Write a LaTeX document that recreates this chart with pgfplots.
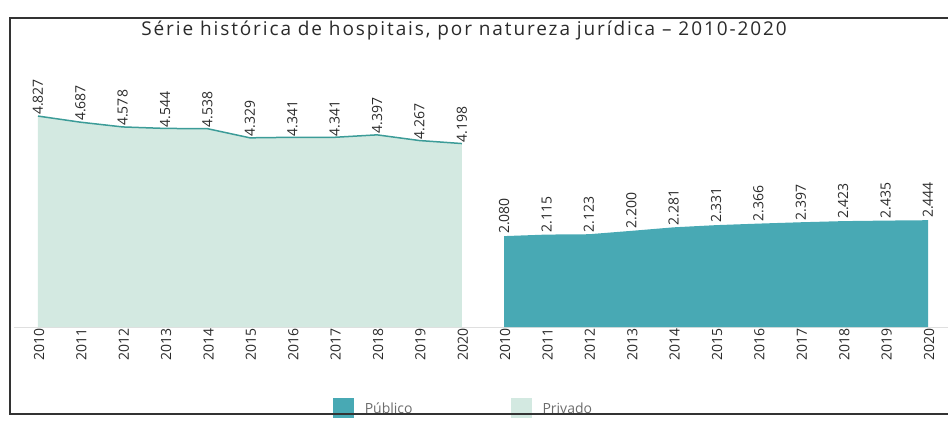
\documentclass[border=0pt]{standalone}
\usepackage{fontspec}
\setmainfont{Open Sans}
\newfontfamily\titlefont[LetterSpace=10]{Open Sans}
\usepackage{pgfplots}
\pgfplotsset{compat=1.18}
\usetikzlibrary{calc}

\definecolor{publico}{HTML}{48A9B4}
\definecolor{privfill}{HTML}{D3E9E1}
\definecolor{privline}{HTML}{3C9C98}
\definecolor{txt}{HTML}{2A2A2A}

% 0..10 = Privado 2010-2020, 11..21 = Publico 2010-2020
\pgfplotstableread{
x y
0 4827
1 4687
2 4578
3 4544
4 4538
5 4329
6 4341
7 4341
8 4397
9 4267
10 4198
}\privado
\pgfplotstableread{
x y
11 2080
12 2115
13 2123
14 2200
15 2281
16 2331
17 2366
18 2397
19 2423
20 2435
21 2444
}\publico

\begin{document}
\begin{tikzpicture}
\begin{axis}[
    name=ax,
    scale only axis,
    width=890pt, height=218.5pt,
    xmin=0, xmax=21, ymin=0, ymax=5000,
    enlarge x limits=false,
    clip=false,
    axis x line*=bottom,
    axis y line=none,
    x axis line style={gray!25, line width=0.8pt, shorten <=-24pt, shorten >=-20pt},
    xtick={0,...,21},
    xticklabels={2010,2011,2012,2013,2014,2015,2016,2017,2018,2019,2020,
                 2010,2011,2012,2013,2014,2015,2016,2017,2018,2019,2020},
    major tick length=0pt,
    xticklabel style={rotate=90, anchor=east, font=\fontsize{14}{14}\selectfont, text=txt, inner sep=1pt, yshift=-1pt},
    nodes near coords={\pgfmathprintnumber[assume math mode=true,1000 sep={.}]{\pgfplotspointmeta}},
    every node near coord/.append style={rotate=90, anchor=west, font=\fontsize{14}{14}\selectfont, text=txt, inner sep=1pt},
    legend columns=2,
    legend style={at={(0.478,-0.372)}, anchor=center, draw=none, fill=none,
        font=\fontsize{14}{14}\selectfont, text=gray!85!black,
        /tikz/every odd column/.append style={column sep=9pt},
        /tikz/every even column/.append style={column sep=96pt}},
    legend image code/.code={\fill[#1] (0pt,-9pt) rectangle (21pt,11pt);},
]
\addplot[fill=publico, draw=none, every node near coord/.append style={xshift=1pt}] table {\publico} \closedcycle;
\addlegendentry{Público}
\addplot[fill=privfill, draw=none] table {\privado} \closedcycle;
\addlegendentry{Privado}
\addplot[privline, line width=1.5pt, forget plot, nodes near coords=] table {\privado};
\end{axis}
\path[use as bounding box] ($(ax.south west)+(-38pt,-92pt)$) rectangle ++(948pt,419pt);
\draw[line width=1.6pt, black!80]
    ($(ax.south west)+(912pt,309pt)$) -- ($(ax.south west)+(-28pt,309pt)$)
    -- ($(ax.south west)+(-28pt,-87pt)$) -- ($(ax.south west)+(912pt,-87pt)$);
\node[font=\titlefont\fontsize{19}{19}\selectfont, text=txt] at ($(ax.south west)+(426pt,296pt)$)
    {Série histórica de hospitais, por natureza jurídica – 2010-2020};
\end{tikzpicture}
\end{document}
